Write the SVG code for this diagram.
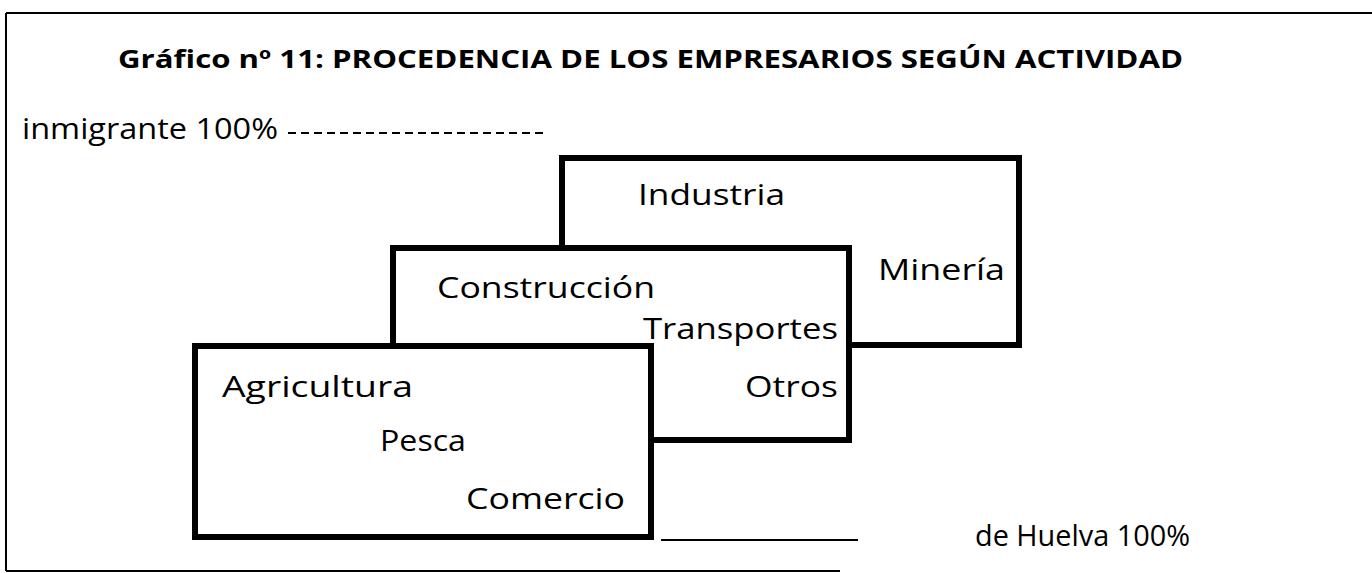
<svg xmlns="http://www.w3.org/2000/svg" width="1372" height="573" viewBox="0 0 1372 573">
  <style>
    .box { fill: #ffffff; stroke: #000000; stroke-width: 6; }
    .lbl { font-family: "Open Sans", "DejaVu Sans", sans-serif; font-size: 29px; font-weight: 500; fill: #000000; }
    .ttl { font-family: "Open Sans", "DejaVu Sans", sans-serif; font-size: 25px; font-weight: bold; fill: #000000; }
    .frame { stroke: #000000; stroke-width: 2; fill: none; }
  </style>
  <rect width="1372" height="573" fill="#ffffff"/>
  <g id="frame">
    <line class="frame" x1="6" y1="13" x2="1372" y2="13"/>
    <line class="frame" x1="6" y1="13" x2="6" y2="571"/>
    <line class="frame" x1="6" y1="571" x2="840" y2="571"/>
  </g>
  <text id="title" class="ttl" x="118" y="68" textLength="1065" lengthAdjust="spacingAndGlyphs">Gráfico nº 11:  PROCEDENCIA DE LOS EMPRESARIOS SEGÚN ACTIVIDAD</text>
  <g id="connectors">
    <line x1="288" y1="133" x2="545" y2="133" stroke="#000" stroke-width="2" stroke-dasharray="8,5"/>
    <line x1="661" y1="540" x2="858" y2="540" stroke="#000" stroke-width="2"/>
  </g>
  <g id="axis-inmigrante">
    <text class="lbl" x="22" y="139" textLength="256" lengthAdjust="spacingAndGlyphs">inmigrante 100%</text>
  </g>
  <g id="axis-huelva">
    <text class="lbl" x="975" y="546" textLength="215" lengthAdjust="spacingAndGlyphs">de Huelva 100%</text>
  </g>
  <g id="box-industria">
    <rect class="box" x="562" y="158" width="457" height="187"/>
    <text class="lbl" x="638" y="205" textLength="147" lengthAdjust="spacingAndGlyphs">Industria</text>
    <text class="lbl" x="878" y="280" textLength="127" lengthAdjust="spacingAndGlyphs">Minería</text>
  </g>
  <g id="box-construccion">
    <rect class="box" x="393" y="248" width="456" height="192"/>
    <text class="lbl" x="437" y="298" textLength="218" lengthAdjust="spacingAndGlyphs">Construcción</text>
    <text class="lbl" x="643" y="339" textLength="195" lengthAdjust="spacingAndGlyphs">Transportes</text>
    <text class="lbl" x="745" y="397" textLength="93" lengthAdjust="spacingAndGlyphs">Otros</text>
  </g>
  <g id="box-agricultura">
    <rect class="box" x="195" y="346" width="456" height="191"/>
    <text class="lbl" x="222" y="397" textLength="191" lengthAdjust="spacingAndGlyphs">Agricultura</text>
    <text class="lbl" x="380" y="451" textLength="86" lengthAdjust="spacingAndGlyphs">Pesca</text>
    <text class="lbl" x="466" y="509" textLength="159" lengthAdjust="spacingAndGlyphs">Comercio</text>
  </g>
</svg>
